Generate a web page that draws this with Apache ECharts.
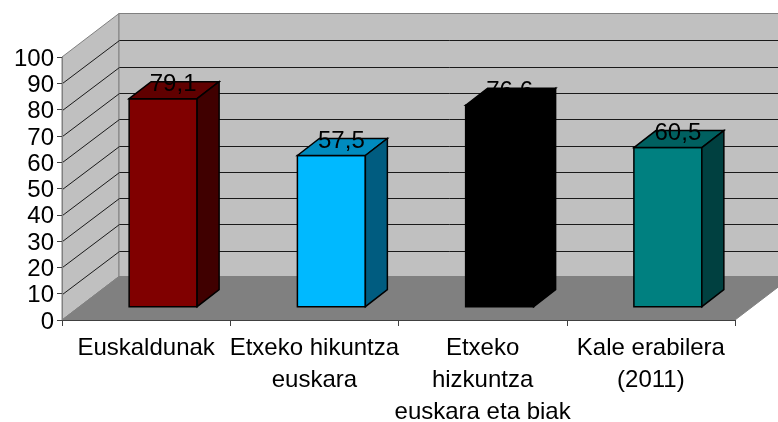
<!DOCTYPE html>
<html><head><meta charset="utf-8">
<script src="https://cdn.jsdelivr.net/npm/echarts@6/dist/echarts.min.js"></script>
<style>html,body{margin:0;padding:0;background:#fff}#c{width:778px;height:422px}</style>
</head><body><div id="c"></div>
<script>
const categories = ['Euskaldunak','Etxeko hikuntza\neuskara','Etxeko\nhizkuntza\neuskara eta biak','Kale erabilera\n(2011)'];
const values = [79.1,57.5,76.6,60.5];
const valueLabels = ['79,1','57,5','76,6','60,5'];
const frontColors = ['#800000','#00b9ff','#000000','#008080'];
const topColors = ['#600000','#008bbf','#000000','#006060'];
const sideColors = ['#400000','#005c80','#000000','#004040'];
const yTicks = [10,20,30,40,50,60,70,80,90];

const FONT = '"Liberation Sans", Arial, sans-serif';
const WALL_DX = 57, WALL_DY = -43.5;
const BAR_DX = 22, BAR_DY = -17, BAR_OX = 17, BAR_OY = -13.3;

const chart = echarts.init(document.getElementById('c'));
function poly(points, fill, stroke, lw, z2){
  return {type:'polygon', z2:z2||0, shape:{points}, style:{fill, stroke:stroke||fill, lineWidth:lw||0}};
}
chart.setOption({
  animation:false,
  backgroundColor:'#fff',
  grid:{left:62,right:43,top:57,bottom:102,containLabel:false,outerBoundsMode:'none'},
  xAxis:{type:'category',data:categories,z:6,
    axisLine:{lineStyle:{color:'#404040',width:1}},
    axisTick:{show:true,length:6,lineStyle:{color:'#404040',width:1},alignWithLabel:false},
    axisLabel:{interval:0,color:'#000',fontFamily:FONT,fontSize:24,lineHeight:32,margin:12,hideOverlap:false},
    splitLine:{show:false}},
  yAxis:{type:'value',min:0,max:100,interval:10,z:6,
    axisLine:{show:true,lineStyle:{color:'#808080'}},
    axisTick:{show:true,length:5,lineStyle:{color:'#404040'}},
    axisLabel:{color:'#000',fontFamily:FONT,fontSize:24,margin:8,verticalAlign:'top',lineHeight:4},
    splitLine:{show:false}},
  series:[
    {type:'custom',z:1,silent:true,data:[[0,0]],clip:false,
     renderItem(p,api){
       const r=p.coordSys, L=r.x, R=r.x+r.width, T=r.y, B=r.y+r.height;
       const dx=WALL_DX, dy=WALL_DY;
       return {type:'group',children:[
         poly([[L,B],[L,T],[L+dx,T+dy],[L+dx,B+dy]],'#c0c0c0','#808080',1),
         poly([[L+dx,T+dy],[R+dx,T+dy],[R+dx,B+dy],[L+dx,B+dy]],'#c0c0c0','#808080',1),
         poly([[L,B],[L+dx,B+dy],[R+dx,B+dy],[R,B]],'#808080','#808080',1)
       ]};
     }},
    {type:'custom',z:2,silent:true,clip:false,data:yTicks.map(v=>[0,v]),
     renderItem(p,api){
       const r=p.coordSys, y=Math.round(api.coord([0,api.value(1)])[1])+0.5;
       const L=r.x+0.5, R=r.x+r.width+WALL_DX;
       const yb=Math.round(y+WALL_DY)+0.5;
       return {type:'polyline',shape:{points:[[L,y],[L+WALL_DX,yb],[R,yb]]},
         style:{fill:'none',stroke:'#1a1a1a',lineWidth:1}};
     }},
    {type:'custom',z:3,silent:true,clip:false,
     data:values.map((v,i)=>[i,v]),
     renderItem(p,api){
       const i=api.value(0), c=api.coord([i,api.value(1)]), base=api.coord([i,0]);
       const w=api.size([1,0])[0]*0.404;
       const x0=c[0]+BAR_OX-w/2, x1=x0+w, yt=c[1]+BAR_OY, yb=base[1]+BAR_OY;
       const d=BAR_DX, e=BAR_DY, lw=1.5, st='#000';
       return {type:'group',children:[
         poly([[x0,yt],[x1,yt],[x1,yb],[x0,yb]],frontColors[i],st,lw),
         poly([[x0,yt],[x0+d,yt+e],[x1+d,yt+e],[x1,yt]],topColors[i],st,lw),
         poly([[x1,yt],[x1+d,yt+e],[x1+d,yb+e],[x1,yb]],sideColors[i],st,lw),
         {type:'text',z2:10,style:{text:valueLabels[i],x:c[0]+BAR_OX+10,y:yt-14,
           fill:'#000',font:'24px '+FONT,align:'center',verticalAlign:'middle'}}
       ]};
     }}
  ]
});
</script></body></html>
